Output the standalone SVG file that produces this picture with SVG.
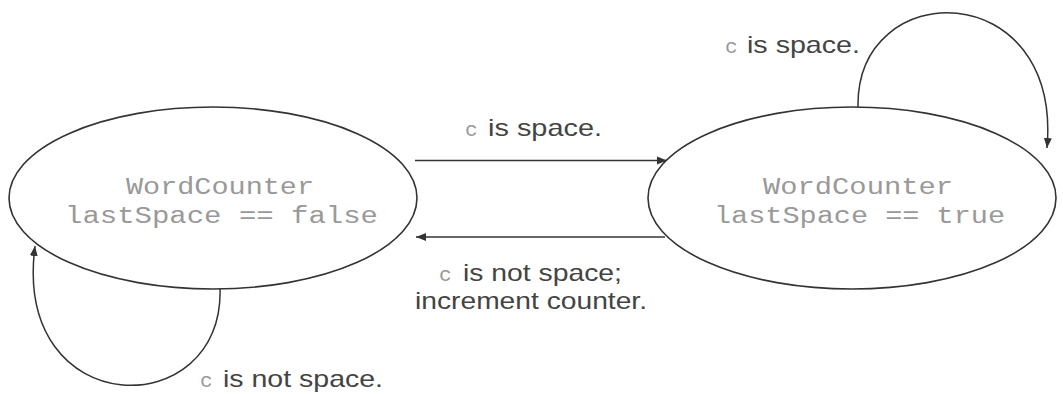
<svg xmlns="http://www.w3.org/2000/svg" width="1063" height="394" viewBox="0 0 1063 394">
<defs>
<style>
.node{fill:#fff;stroke:#333;stroke-width:1.6}
.conn{fill:none;stroke:#333;stroke-width:1.5}
.mono{font-family:"Liberation Mono",monospace;font-size:23px;fill:#999}
.c{font-family:"Liberation Mono",monospace;font-size:21px;fill:#999}
.lbl{font-family:"Liberation Sans",Arial,sans-serif;font-size:24px;fill:#444}
</style>
<marker id="arr" viewBox="0 0 10 10" refX="10" refY="5" markerWidth="10" markerHeight="10" markerUnits="userSpaceOnUse" orient="auto">
<path d="M0,1 L10,5 L0,9 Z" fill="#333"/>
</marker>
</defs>
<rect width="1063" height="394" fill="#fff"/>
<g id="connectors">
<line class="conn" x1="415" y1="160.5" x2="667" y2="160.5" marker-end="url(#arr)"/>
<line class="conn" x1="665" y1="237" x2="416" y2="237" marker-end="url(#arr)"/>
<path class="conn" d="M858,108 C855,-25 1062,-25 1047,148" marker-end="url(#arr)"/>
<path class="conn" d="M220,288 C225,424 12,424 35,246" marker-end="url(#arr)"/>
<text x="465" y="136"><tspan class="c">c</tspan><tspan class="lbl" x="488" textLength="114" lengthAdjust="spacingAndGlyphs">is space.</tspan></text>
<text x="439" y="281"><tspan class="c">c</tspan><tspan class="lbl" x="463" textLength="159" lengthAdjust="spacingAndGlyphs">is not space;</tspan></text>
<text class="lbl" x="415" y="309" textLength="232" lengthAdjust="spacingAndGlyphs">increment counter.</text>
<text x="725" y="53"><tspan class="c">c</tspan><tspan class="lbl" x="747" textLength="113" lengthAdjust="spacingAndGlyphs">is space.</tspan></text>
<text x="200" y="387"><tspan class="c">c</tspan><tspan class="lbl" x="223" textLength="160" lengthAdjust="spacingAndGlyphs">is not space.</tspan></text>
</g>
<g id="state-false">
<ellipse class="node" cx="213" cy="198" rx="204" ry="91"/>
<text class="mono" x="126" y="194" textLength="188" lengthAdjust="spacingAndGlyphs">WordCounter</text>
<text class="mono" x="65" y="223" textLength="313" lengthAdjust="spacingAndGlyphs">lastSpace == false</text>
</g>
<g id="state-true">
<ellipse class="node" cx="852" cy="198" rx="204" ry="91"/>
<text class="mono" x="763" y="194" textLength="190" lengthAdjust="spacingAndGlyphs">WordCounter</text>
<text class="mono" x="714" y="223" textLength="291" lengthAdjust="spacingAndGlyphs">lastSpace == true</text>
</g>
</svg>
